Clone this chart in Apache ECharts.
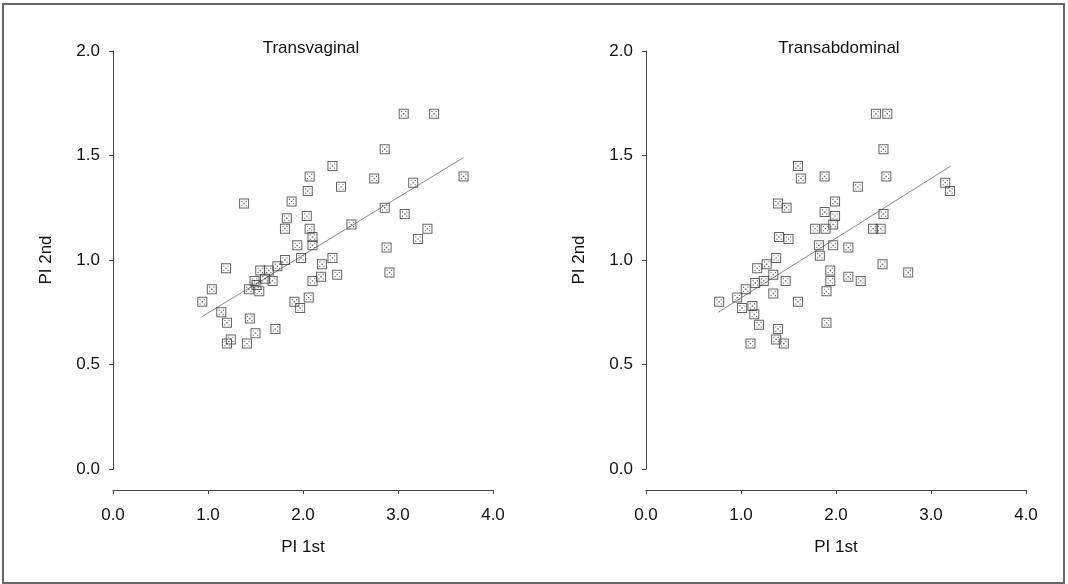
<!DOCTYPE html>
<html>
<head>
<meta charset="utf-8">
<script src="https://cdn.jsdelivr.net/npm/echarts@6/dist/echarts.min.js"></script>
<style>
  html, body { margin: 0; padding: 0; background: #fff; }
  #chart-container { width: 1068px; height: 584px; }
</style>
</head>
<body>
<div id="chart-container"></div>
<script>
// Transvaginal panel
let tvX = [3.06, 3.38, 2.86, 2.31, 2.07, 2.75, 3.69, 2.40, 2.05, 3.16, 1.38, 1.88, 1.83, 2.04,
    1.81, 2.07, 2.86, 2.51, 3.07, 3.31, 3.21, 2.10, 2.10, 1.94, 2.88, 1.98, 1.81, 2.31,
    2.20, 1.73, 1.19, 1.55, 1.64, 2.36, 2.19, 2.10, 1.49, 1.68, 1.60, 2.91, 1.04, 1.43,
    1.54, 1.51, 0.94, 1.91, 2.06, 1.97, 1.14, 1.20, 1.44, 1.71, 1.50, 1.24, 1.20, 1.41];
let tvY = [1.70, 1.70, 1.53, 1.45, 1.40, 1.39, 1.40, 1.35, 1.33, 1.37, 1.27, 1.28, 1.20, 1.21,
    1.15, 1.15, 1.25, 1.17, 1.22, 1.15, 1.10, 1.11, 1.07, 1.07, 1.06, 1.01, 1.00, 1.01,
    0.98, 0.97, 0.96, 0.95, 0.95, 0.93, 0.92, 0.90, 0.90, 0.90, 0.91, 0.94, 0.86, 0.86,
    0.85, 0.88, 0.80, 0.80, 0.82, 0.77, 0.75, 0.70, 0.72, 0.67, 0.65, 0.62, 0.60, 0.60];
let tvFitX = [0.94, 3.69];
let tvFitY = [0.73, 1.49];

// Transabdominal panel
let taX = [2.42, 2.54, 2.50, 1.60, 1.63, 1.88, 2.53, 2.23, 3.15, 3.20, 1.39, 1.48, 1.99, 1.88,
    1.99, 2.50, 1.78, 1.89, 1.97, 2.39, 2.47, 1.40, 1.50, 1.82, 1.97, 2.13, 1.83, 1.37,
    1.17, 1.27, 1.34, 2.49, 2.76, 1.94, 1.94, 1.47, 1.24, 1.15, 2.13, 2.26, 1.05, 1.34,
    1.90, 0.96, 0.77, 1.60, 1.01, 1.12, 1.14, 1.19, 1.90, 1.39, 1.37, 1.45, 1.10];
let taY = [1.70, 1.70, 1.53, 1.45, 1.39, 1.40, 1.40, 1.35, 1.37, 1.33, 1.27, 1.25, 1.28, 1.23,
    1.21, 1.22, 1.15, 1.15, 1.17, 1.15, 1.15, 1.11, 1.10, 1.07, 1.07, 1.06, 1.02, 1.01,
    0.96, 0.98, 0.93, 0.98, 0.94, 0.95, 0.90, 0.90, 0.90, 0.89, 0.92, 0.90, 0.86, 0.84,
    0.85, 0.82, 0.80, 0.80, 0.77, 0.78, 0.74, 0.69, 0.70, 0.67, 0.62, 0.60, 0.60];
let taFitX = [0.76, 3.21];
let taFitY = [0.75, 1.45];

let xTicks = ["0.0", "1.0", "2.0", "3.0", "4.0"];
let yTicks = ["0.0", "0.5", "1.0", "1.5", "2.0"];

function pairs(xs, ys) {
    return xs.map(function (x, i) { return [x, ys[i]]; });
}

// boxed marker: square outline, centre dot and four small corner dots
let boxSymbol = "path://M0,0 L10,0 L10,10 L0,10 Z M1,1 L1,9 L9,9 L9,1 Z " +
    "M4.3,4.3 L5.7,4.3 L5.7,5.7 L4.3,5.7 Z " +
    "M2.3,2.3 L3.4,2.3 L3.4,3.4 L2.3,3.4 Z M6.6,2.3 L7.7,2.3 L7.7,3.4 L6.6,3.4 Z " +
    "M2.3,6.6 L3.4,6.6 L3.4,7.7 L2.3,7.7 Z M6.6,6.6 L7.7,6.6 L7.7,7.7 L6.6,7.7 Z";

let textColor = "#111";
let axisColor = "#444";
let fontFamily = "Liberation Sans, Arial, sans-serif";

function makeX(idx) {
    return {
        gridIndex: idx,
        type: "value",
        min: 0,
        max: 4,
        interval: 1,
        offset: 21,
        name: "PI 1st",
        nameLocation: "middle",
        nameGap: 49,
        nameTextStyle: { color: textColor, fontSize: 17, fontFamily: fontFamily },
        axisLine: { show: true, onZero: false, lineStyle: { color: axisColor, width: 1 } },
        axisTick: { show: true, length: 4, lineStyle: { color: axisColor } },
        axisLabel: {
            color: textColor, fontSize: 17, fontFamily: fontFamily, margin: 17,
            formatter: function (v) { return xTicks[Math.round(v)]; }
        },
        splitLine: { show: false }
    };
}

function makeY(idx) {
    return {
        gridIndex: idx,
        type: "value",
        min: 0,
        max: 2,
        interval: 0.5,
        name: "PI 2nd",
        nameLocation: "middle",
        nameGap: 58,
        nameRotate: 90,
        nameTextStyle: { color: textColor, fontSize: 17, fontFamily: fontFamily },
        axisLine: { show: true, onZero: false, lineStyle: { color: axisColor, width: 1 } },
        axisTick: { show: true, length: 4, lineStyle: { color: axisColor } },
        axisLabel: {
            color: textColor, fontSize: 17, fontFamily: fontFamily, margin: 13,
            formatter: function (v) { return yTicks[Math.round(v * 2)]; }
        },
        splitLine: { show: false }
    };
}

function scatterSeries(idx, data) {
    return {
        type: "scatter",
        xAxisIndex: idx,
        yAxisIndex: idx,
        symbol: boxSymbol,
        symbolSize: 10,
        itemStyle: { color: "#3c3c3c" },
        data: data,
        z: 3
    };
}

function fitSeries(idx, data) {
    return {
        type: "line",
        xAxisIndex: idx,
        yAxisIndex: idx,
        symbol: "none",
        lineStyle: { color: "#8a8a8a", width: 1 },
        data: data,
        z: 2
    };
}

let dom = document.getElementById("chart-container");
let myChart = echarts.init(dom, null, { renderer: "canvas" });

let option = {
    backgroundColor: "#fff",
    animation: false,
    title: [{
        text: "Transvaginal",
        left: 306,
        top: 35,
        textAlign: "center",
        textStyle: { color: textColor, fontSize: 17, fontWeight: "normal", fontFamily: fontFamily }
    }, {
        text: "Transabdominal",
        left: 834,
        top: 35,
        textAlign: "center",
        textStyle: { color: textColor, fontSize: 17, fontWeight: "normal", fontFamily: fontFamily }
    }],
    grid: [
        { left: 113, top: 51, width: 380, height: 418 },
        { left: 646, top: 51, width: 380, height: 418 }
    ],
    xAxis: [makeX(0), makeX(1)],
    yAxis: [makeY(0), makeY(1)],
    graphic: [{
        type: "rect",
        shape: { x: 3, y: 4, width: 1061, height: 579 },
        style: { fill: "none", stroke: "#666", lineWidth: 2 },
        silent: true
    }],
    series: [
        fitSeries(0, pairs(tvFitX, tvFitY)),
        scatterSeries(0, pairs(tvX, tvY)),
        fitSeries(1, pairs(taFitX, taFitY)),
        scatterSeries(1, pairs(taX, taY))
    ]
};

myChart.setOption(option);
window.addEventListener("resize", myChart.resize);
</script>
</body>
</html>
